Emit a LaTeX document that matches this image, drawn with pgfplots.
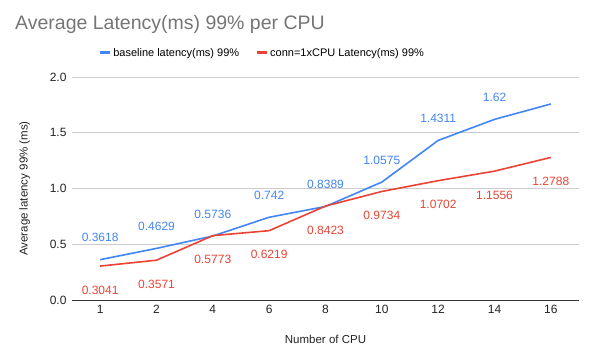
\documentclass[border=0pt]{standalone}
\usepackage{pgfplots}
\pgfplotsset{compat=1.18}
\usepackage{fontspec}
\setmainfont{Liberation Sans}
\definecolor{gblue}{HTML}{4285F4}
\definecolor{gred}{HTML}{EA4335}
\definecolor{titlegray}{HTML}{757575}
\definecolor{gridgray}{HTML}{CCCCCC}
\definecolor{axisdark}{HTML}{333333}
\definecolor{ticktext}{HTML}{222222}
\begin{document}
\begin{tikzpicture}
\path[use as bounding box] (0,0) rectangle (597bp,361bp);
\node[anchor=base west, text=titlegray, font=\fontsize{19.5bp}{23bp}\selectfont, inner sep=0pt] at (15bp,331bp) {Average Latency(ms) 99\% per CPU};
\begin{axis}[
  at={(72bp,61bp)}, anchor=south west,
  scale only axis, width=507bp, height=223bp,
  xmin=-0.5, xmax=8.5, ymin=0, ymax=2.0,
  xtick={0,...,8}, xticklabels={1,2,4,6,8,10,12,14,16},
  ytick={0,0.5,1,1.5,2},
  /pgf/number format/assume math mode=true,
  ymajorgrids, major grid style={gridgray, line width=0.8bp},
  axis x line*=bottom, axis y line*=left,
  y axis line style={draw=none},
  x axis line style={axisdark, line width=1bp, -},
  tick style={draw=none},
  ticklabel style={font=\fontsize{12bp}{14bp}\selectfont, text=ticktext},
  xticklabel style={yshift=-2bp},
  yticklabel style={xshift=-2bp, /pgf/number format/.cd, fixed, fixed zerofill, precision=1},
  xlabel={Number of CPU}, ylabel={Average latency 99\% (ms)},
  label style={font=\fontsize{11.5bp}{14bp}\selectfont, text=ticktext},
  xlabel style={yshift=-14bp},
  ylabel style={yshift=13bp},
  legend style={draw=none, fill=none, at={(0.375,1.108)}, anchor=center,
    font=\fontsize{11bp}{13bp}\selectfont, /tikz/every even column/.append style={column sep=14bp}},
  legend columns=2,
  legend image code/.code={\draw[#1, line width=3bp] (0bp,0bp) -- (10bp,0bp);},
  point meta=explicit symbolic,
  nodes near coords,
  every node near coord/.append style={font=\fontsize{12bp}{14bp}\selectfont, anchor=center},
]
\addplot[gblue, line width=1.6bp, mark=none,
  nodes near coords style={text=gblue, yshift=22bp}] coordinates {
(0,0.3618) [0.3618]
(1,0.4629) [0.4629]
(2,0.5736) [0.5736]
(3,0.742) [0.742]
(4,0.8389) [0.8389]
(5,1.0575) [1.0575]
(6,1.4311) [1.4311]
(7,1.62) [1.62]
(8,1.758) []
};
\addlegendentry{baseline latency(ms) 99\%}
\addplot[gred, line width=1.6bp, mark=none,
  nodes near coords style={text=gred, yshift=-24bp}] coordinates {
(0,0.3041) [0.3041]
(1,0.3571) [0.3571]
(2,0.5773) [0.5773]
(3,0.6219) [0.6219]
(4,0.8423) [0.8423]
(5,0.9734) [0.9734]
(6,1.0702) [1.0702]
(7,1.1556) [1.1556]
(8,1.2788) [1.2788]
};
\addlegendentry{conn=1xCPU Latency(ms) 99\%}
\end{axis}
\end{tikzpicture}
\end{document}
